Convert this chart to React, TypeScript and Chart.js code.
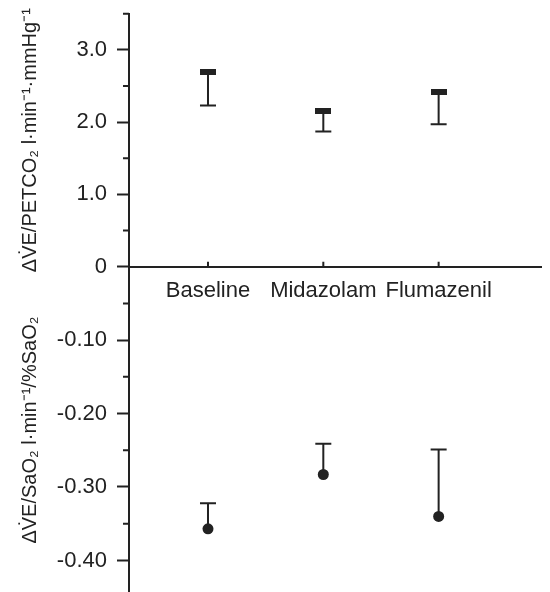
import React, { useEffect, useRef } from "react";
import { Chart, registerables } from "chart.js";

Chart.register(...registerables);

const categories = ["Baseline", "Midazolam", "Flumazenil"];
const co2Mean = [2.69, 2.16, 2.41];
const co2Lower = [2.23, 1.87, 1.97];
const sao2Mean = [-0.357, -0.283, -0.34];
const sao2Upper = [-0.322, -0.241, -0.249];

const INK = "#222222";
const FONT = "'Liberation Sans', Arial, sans-serif";

const errorBars = {
  id: "errorBars",
  beforeDatasetsDraw(chart: any) {
    const ctx = chart.ctx;
    const xs = chart.scales.x;
    ctx.save();
    ctx.strokeStyle = INK;
    ctx.lineWidth = 2;
    chart.data.datasets.forEach((ds: any) => {
      const ys = chart.scales[ds.yAxisID];
      ds.data.forEach((p: any, i: number) => {
        const px = xs.getPixelForValue(p.x);
        const pm = ys.getPixelForValue(p.y);
        const pb = ys.getPixelForValue(ds.bounds[i]);
        ctx.beginPath();
        ctx.moveTo(px, pm);
        ctx.lineTo(px, pb);
        ctx.moveTo(px - 8, pb);
        ctx.lineTo(px + 8, pb);
        ctx.stroke();
      });
    });
    ctx.restore();
  },
};

const minorTicks = {
  id: "minorTicks",
  afterDraw(chart: any) {
    const ctx = chart.ctx;
    const y = chart.scales.y;
    const y2 = chart.scales.y2;
    const x = chart.scales.x;
    ctx.save();
    ctx.strokeStyle = INK;
    ctx.lineWidth = 2;
    ctx.beginPath();
    y.ticks.forEach((t: any) => {
      if (Math.round(t.value / 0.5) % 2 !== 0) {
        const py = y.getPixelForValue(t.value);
        ctx.moveTo(y.right - 6, py);
        ctx.lineTo(y.right, py);
      }
    });
    y2.ticks.forEach((t: any) => {
      if (Math.round(t.value / 0.05) % 2 !== 0) {
        const py = y2.getPixelForValue(t.value);
        ctx.moveTo(y2.right - 6, py);
        ctx.lineTo(y2.right, py);
      }
    });
    const y0 = y.getPixelForValue(0);
    x.ticks.forEach((t: any) => {
      const px = x.getPixelForValue(t.value);
      ctx.moveTo(px, y0 - 5);
      ctx.lineTo(px, y0);
    });
    ctx.stroke();
    ctx.restore();
  },
};

const fixY = (s: any) => {
  s.width = 121;
  s.paddingTop = 0;
  s.paddingBottom = 0;
};

export default function App() {
  const ref = useRef<HTMLCanvasElement | null>(null);

  useEffect(() => {
    if (!ref.current) return;
    const rect = document.createElement("canvas");
    rect.width = 16;
    rect.height = 6;
    const rc = rect.getContext("2d")!;
    rc.fillStyle = INK;
    rc.fillRect(0, 0, 16, 6);

    const chart = new Chart(ref.current, {
      type: "scatter",
      data: {
        datasets: [
          {
            label: "CO2",
            yAxisID: "y",
            data: co2Mean.map((v, i) => ({ x: i, y: v })),
            bounds: co2Lower,
            pointStyle: rect as any,
            backgroundColor: INK,
            borderColor: INK,
          } as any,
          {
            label: "SaO2",
            yAxisID: "y2",
            data: sao2Mean.map((v, i) => ({ x: i, y: v })),
            bounds: sao2Upper,
            pointStyle: "circle",
            pointRadius: 5.5,
            backgroundColor: INK,
            borderColor: INK,
            borderWidth: 0,
          } as any,
        ],
      },
      options: {
        animation: false,
        responsive: false,
        layout: { padding: { top: 5.7, right: 3, bottom: 0, left: 0 } },
        plugins: { legend: { display: false }, tooltip: { enabled: false } },
        scales: {
          x: {
            type: "linear",
            position: { y: 0 } as any,
            min: -0.685,
            max: 2.918,
            afterFit: (s: any) => {
              s.paddingLeft = 0;
              s.paddingRight = 0;
            },
            grid: { drawOnChartArea: false, drawTicks: false },
            border: { display: true, color: INK, width: 2 },
            ticks: {
              stepSize: 1,
              includeBounds: false,
              autoSkip: false,
              maxRotation: 0,
              padding: 11,
              color: INK,
              font: { family: FONT, size: 22 },
              callback: (v: any) => categories[v] ?? "",
            },
          },
          y: {
            type: "linear",
            position: "left",
            stack: "panels",
            stackWeight: 252.3,
            weight: 1,
            min: 0,
            max: 3.5,
            afterFit: fixY,
            grid: {
              drawOnChartArea: false,
              tickLength: 12,
              tickWidth: 2,
              tickColor: (c: any) =>
                Math.round(c.tick.value / 0.5) % 2 === 0 ? INK : "rgba(0,0,0,0)",
            },
            border: { display: true, color: INK, width: 2 },
            ticks: {
              stepSize: 0.5,
              includeBounds: false,
              autoSkip: false,
              padding: 10,
              color: INK,
              font: { family: FONT, size: 22 },
              callback: (v: any) => {
                const k = Math.round(v / 0.5);
                if (k % 2 !== 0) return "";
                return k === 0 ? "0" : Number(v).toFixed(1);
              },
            },
            title: {
              display: true,
              text: "ΔV̇E/PETCO₂ l·min⁻¹·mmHg⁻¹",
              color: INK,
              font: { family: FONT, size: 20 },
              padding: { top: 10, bottom: 0 },
            },
          },
          y2: {
            type: "linear",
            position: "left",
            stack: "panels",
            stackWeight: 326,
            weight: 0,
            min: -0.445,
            max: 0,
            afterFit: fixY,
            grid: {
              drawOnChartArea: false,
              tickLength: 12,
              tickWidth: 2,
              tickColor: (c: any) => {
                const k = Math.round(c.tick.value / 0.05);
                return k % 2 === 0 && k !== 0 ? INK : "rgba(0,0,0,0)";
              },
            },
            border: { display: true, color: INK, width: 2 },
            ticks: {
              stepSize: 0.05,
              includeBounds: false,
              autoSkip: false,
              padding: 10,
              color: INK,
              font: { family: FONT, size: 22 },
              callback: (v: any) => {
                const k = Math.round(v / 0.05);
                if (k === 0 || k % 2 !== 0) return "";
                return Number(v).toFixed(2);
              },
            },
            title: {
              display: true,
              text: "ΔV̇E/SaO₂ l·min⁻¹/%SaO₂",
              color: INK,
              font: { family: FONT, size: 20 },
              padding: { top: 10, bottom: 0 },
            },
          },
        },
      },
      plugins: [errorBars, minorTicks],
    } as any);
    return () => chart.destroy();
  }, []);

  return (
    <div style={{ width: 542, height: 584, overflow: "hidden" }}>
      <canvas ref={ref} width={542} height={591} style={{ display: "block" }} />
    </div>
  );
}
